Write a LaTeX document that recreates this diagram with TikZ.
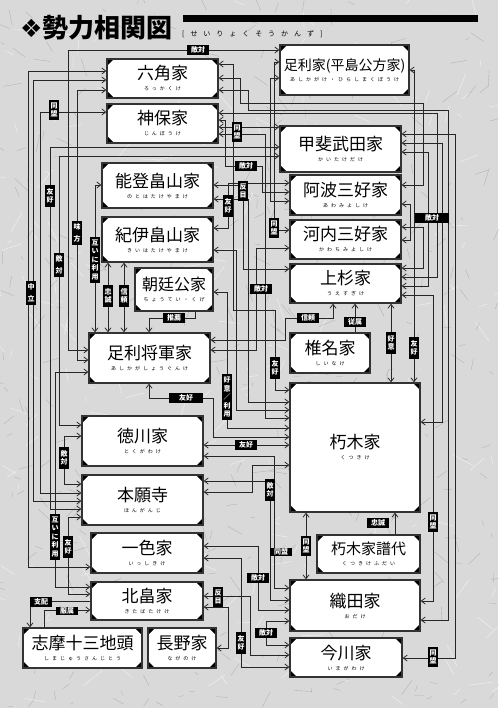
\documentclass[tikz,border=0pt]{standalone}
\usepackage{fontspec}
\newfontfamily\jp{Noto Sans CJK JP}
\newfontfamily\jpsp{Noto Sans CJK JP}[LetterSpace=60]
\newfontfamily\jpwide{Noto Sans CJK JP}[LetterSpace=85]
\newfontfamily\symf{DejaVu Sans}
\usetikzlibrary{arrows.meta}
\newcommand{\ttl}[2][17]{{\jp\fontsize{#1}{#1}\selectfont #2}}
\newcommand{\rd}[1]{{\jpsp\fontsize{5}{6}\selectfont #1}}
\tikzset{
  house/.style={draw=black!80, line width=1.3pt, fill=white, inner sep=0pt, align=center,
    font=\fontsize{10}{11}\selectfont,
    path picture={
      \fill[black] (path picture bounding box.north west) -- ++(7pt,0pt) -- ++(-7pt,-7pt) -- cycle;
      \fill[black] (path picture bounding box.north east) -- ++(-7pt,0pt) -- ++(7pt,-7pt) -- cycle;
      \fill[black] (path picture bounding box.south west) -- ++(7pt,0pt) -- ++(-7pt,7pt) -- cycle;
      \fill[black] (path picture bounding box.south east) -- ++(-7pt,0pt) -- ++(7pt,7pt) -- cycle;
    }},
  >={Straight Barb[length=4pt,width=6pt]},
  rel/.style={draw=black!85, line width=0.75pt, <->},
  one/.style={draw=black!85, line width=0.75pt, ->},
  vlab/.style={fill=black, text=white, inner xsep=1.6pt, inner ysep=3pt, align=center,
    font=\jp\bfseries\fontsize{7}{8.5}\selectfont},
  vlabl/.style={vlab, font=\jp\bfseries\fontsize{7}{12}\selectfont},
  hlab/.style={fill=black, text=white, inner xsep=4pt, inner ysep=1.2pt,
    font=\jp\bfseries\fontsize{7}{8}\selectfont},
  hlabw/.style={hlab, inner xsep=10pt},
}
\begin{document}
\begin{tikzpicture}[x=1pt,y=-1pt]
\useasboundingbox (0,0) rectangle (498,708);
% paper background
\fill[black!15] (0,0) rectangle (498,708);
\pgfmathsetseed{42}
\foreach \i in {1,...,420}{
  \pgfmathsetmacro{\rxa}{rnd*498}
  \pgfmathsetmacro{\rya}{rnd*708}
  \pgfmathsetmacro{\rang}{rnd*180}
  \pgfmathsetmacro{\rlen}{3+rnd*16}
  \draw[black!50, line width=0.35pt, opacity=0.45] (\rxa,\rya) -- ++(\rang:\rlen pt);
}
\foreach \i in {1,...,260}{
  \pgfmathsetmacro{\rxa}{rnd*498}
  \pgfmathsetmacro{\rya}{rnd*708}
  \pgfmathsetmacro{\rang}{rnd*180}
  \pgfmathsetmacro{\rlen}{4+rnd*20}
  \draw[white, line width=0.6pt, opacity=0.5] (\rxa,\rya) -- ++(\rang:\rlen pt);
}

% heading
\node[anchor=west, inner sep=0pt] (title) at (20,28)
  {{\symf\fontsize{25}{25}\selectfont ❖}{\jp\bfseries\fontsize{26}{26}\selectfont 勢力相関図}};
\fill[black] (183,15) rectangle (478,22);
\node[anchor=west, inner sep=0pt] (subtitle) at (182,34)
  {\jpwide\fontsize{7}{8}\selectfont [せいりょくそうかんず]};

% houses
\node[house, minimum width=111pt, minimum height=39pt] (rokkaku) at (162.5,78.5) {\ttl{六角家}\\\rd{ろっかくけ}};
\node[house, minimum width=111pt, minimum height=39pt] (jinbo) at (162.5,123.5) {\ttl{神保家}\\\rd{じんぼうけ}};
\node[house, minimum width=129pt, minimum height=50pt] (hirashima) at (344.5,70) {\ttl[14]{足利家(平島公方家)}\\\rd{あしかがけ・ひらしまくぼうけ}};
\node[house, minimum width=121pt, minimum height=46pt] (takeda) at (340.5,149) {\ttl{甲斐武田家}\\\rd{かいたけだけ}};
\node[house, minimum width=111pt, minimum height=45pt] (noto) at (157.5,185.5) {\ttl{能登畠山家}\\\rd{のとはたけやまけ}};
\node[house, minimum width=111pt, minimum height=45pt] (kii) at (157.5,239.5) {\ttl{紀伊畠山家}\\\rd{きいはたけやまけ}};
\node[house, minimum width=111pt, minimum height=40pt] (awa) at (345.5,195) {\ttl{阿波三好家}\\\rd{あわみよしけ}};
\node[house, minimum width=111pt, minimum height=39pt] (kawachi) at (345.5,239.5) {\ttl{河内三好家}\\\rd{かわちみよしけ}};
\node[house, minimum width=111pt, minimum height=39pt] (uesugi) at (345.5,283.5) {\ttl{上杉家}\\\rd{うえすぎけ}};
\node[house, minimum width=78pt, minimum height=43pt] (chotei) at (174,289.5) {\ttl[16]{朝廷公家}\\\rd{ちょうてい・くげ}};
\node[house, minimum width=121pt, minimum height=50pt] (shogun) at (149.5,358) {\ttl{足利将軍家}\\\rd{あしかがしょうぐんけ}};
\node[house, minimum width=80pt, minimum height=40pt] (shiina) at (330,353) {\ttl{椎名家}\\\rd{しいなけ}};
\node[house, minimum width=130pt, minimum height=129pt] (kutsuki) at (355,447.5) {\ttl{朽木家}\\\rd{くつきけ}};
\node[house, minimum width=121pt, minimum height=50pt] (tokugawa) at (142.5,441) {\ttl{徳川家}\\\rd{とくがわけ}};
\node[house, minimum width=121pt, minimum height=50pt] (honganji) at (142.5,500) {\ttl{本願寺}\\\rd{ほんがんじ}};
\node[house, minimum width=112pt, minimum height=40pt] (isshiki) at (147,553) {\ttl{一色家}\\\rd{いっしきけ}};
\node[house, minimum width=112pt, minimum height=38pt] (kitabatake) at (147,601) {\ttl{北畠家}\\\rd{きたばたけけ}};
\node[house, minimum width=119pt, minimum height=40pt] (shima) at (82.5,648) {\ttl{志摩十三地頭}\\\rd{しまじゅうさんじとう}};
\node[house, minimum width=68pt, minimum height=40pt] (nagano) at (182,648) {\ttl{長野家}\\\rd{ながのけ}};
\node[house, minimum width=103pt, minimum height=38pt] (fudai) at (368.5,554) {\ttl[15]{朽木家譜代}\\\rd{くつきけふだい}};
\node[house, minimum width=130pt, minimum height=51pt] (oda) at (355,605.5) {\ttl{織田家}\\\rd{おだけ}};
\node[house, minimum width=112pt, minimum height=39pt] (imagawa) at (346,657.5) {\ttl{今川家}\\\rd{いまがわけ}};

% left-hand bus
\draw[rel] (hirashima.west |- 0,50) -- (68,50) -- (68,350) -- (shogun.west |- 0,350);
\draw[rel] (rokkaku.west |- 0,71) -- (28,71) -- (28,567) -- (isshiki.west |- 0,567);
\draw[rel] (rokkaku.west |- 0,80) -- (33,80) -- (33,501) -- (honganji.west |- 0,501);
\draw[rel] (rokkaku.west |- 0,90) -- (77,90) -- (77,360) -- (shogun.west |- 0,360);
\draw[rel] (jinbo.west |- 0,112) -- (40,112) -- (40,493) -- (honganji.west |- 0,493);
\draw[rel] (takeda.west |- 0,147) -- (50,147) -- (50,509) -- (honganji.west |- 0,509);
\draw[rel] (takeda.west |- 0,156) -- (59,156) -- (59,425) -- (tokugawa.west |- 0,425);
\draw[rel] (noto.west |- 0,185) -- (95,185) -- (shogun.north -| 95,0);
\draw[rel] (kii.south -| 108,0) -- (shogun.north -| 108,0);
\draw[rel] (kii.south -| 124,0) -- (shogun.north -| 124,0);
\draw[one] (chotei.south -| 195,0) -- (195,318) -- (149,318) -- (shogun.north -| 149,0);
\draw[rel] (shogun.west |- 0,372) -- (55,372) -- (55,587) -- (kitabatake.west |- 0,587);
\draw[rel] (tokugawa.west |- 0,436) -- (64,436) -- (64,484) -- (honganji.west |- 0,484);
\draw[rel] (honganji.west |- 0,517) -- (68,517) -- (68,594) -- (kitabatake.west |- 0,594);
\draw[one] (kitabatake.west |- 0,601) -- (30,601) -- (shima.north -| 30,0);
\draw[one] (shima.north -| 44,0) -- (44,610) -- (kitabatake.west |- 0,610);

% central channel
\draw[rel] (jinbo.east |- 0,127) -- (takeda.west |- 0,127);
\draw[rel] (jinbo.east |- 0,120) -- (225,120) -- (225,166) -- (262,166) -- (262,192) -- (awa.west |- 0,192);
\draw[rel] (jinbo.east |- 0,134) -- (265,134) -- (265,418) -- (kutsuki.west |- 0,418);
\draw[rel] (rokkaku.east |- 0,64) -- (233,64) -- (233,310) -- (275,310) -- (275,390) -- (kutsuki.west |- 0,390);
\draw[rel] (rokkaku.east |- 0,78) -- (240,78) -- (240,103) -- (423,103) -- (423,185) -- (awa.east |- 0,185);
\draw[rel] (rokkaku.east |- 0,90) -- (248,90) -- (248,110) -- (448,110) -- (448,620) -- (oda.east |- 0,620);
\draw[rel] (jinbo.east |- 0,113) -- (437,113) -- (437,277) -- (uesugi.east |- 0,277);
\draw[rel] (hirashima.west |- 0,62) -- (274,62) -- (274,230) -- (kawachi.west |- 0,230);
\draw[rel] (hirashima.west |- 0,78) -- (270,78) -- (270,201) -- (awa.west |- 0,201);
\draw[rel] (noto.east |- 0,185) -- (243,185) -- (243,269) -- (uesugi.west |- 0,269);
\draw[rel] (kii.east |- 0,228) -- (228,228) -- (228,183) -- (awa.west |- 0,183);
\draw[rel] (noto.east |- 0,199) -- (248,199) -- (248,402) -- (kutsuki.west |- 0,402);
\draw[rel] (kii.east |- 0,250) -- (236,250) -- (236,410) -- (kutsuki.west |- 0,410);
\draw[rel] (shogun.east |- 0,350) -- (256,350) -- (256,248) -- (kawachi.west |- 0,248);
\draw[rel] (uesugi.south -| 333,0) -- (333,318) -- (285,318) -- (285,340) -- (shogun.east |- 0,340);
\draw[one] (shiina.north -| 355,0) -- (uesugi.south -| 355,0);
\draw[rel] (uesugi.south -| 391,0) -- (kutsuki.north -| 391,0);
\draw[rel] (hirashima.east |- 0,70) -- (414,70) -- (kutsuki.north -| 414,0);
\draw[rel] (chotei.east |- 0,292) -- (227,292) -- (227,428) -- (kutsuki.west |- 0,428);
\draw[rel] (shogun.south -| 149,0) -- (149,398) -- (213,398) -- (213,437) -- (kutsuki.west |- 0,437);
\draw[rel] (tokugawa.east |- 0,445) -- (kutsuki.west |- 0,445);
\draw[rel] (honganji.east |- 0,492) -- (252,492) -- (252,465) -- (kutsuki.west |- 0,465);
\draw[rel] (honganji.east |- 0,481) -- (270,481) -- (270,600) -- (oda.west |- 0,600);
\draw[rel] (tokugawa.east |- 0,456) -- (274,456) -- (274,588) -- (oda.west |- 0,588);
\draw[rel] (isshiki.east |- 0,546) -- (258,546) -- (258,610) -- (oda.west |- 0,610);
\draw[rel] (isshiki.east |- 0,558) -- (241,558) -- (241,667) -- (imagawa.west |- 0,667);
\draw[rel] (oda.west |- 0,621) -- (266,621) -- (266,645) -- (imagawa.west |- 0,645);
\draw[rel] (kitabatake.east |- 0,596) -- (250,596) -- (250,655) -- (imagawa.west |- 0,655);
\draw[rel] (kitabatake.east |- 0,607) -- (228,607) -- (228,648) -- (nagano.east |- 0,648);
\draw[rel] (kutsuki.south -| 306,0) -- (oda.north -| 306,0);
\draw[one] (fudai.north -| 395,0) -- (kutsuki.south -| 395,0);

% right-hand bus
\draw[rel] (takeda.east |- 0,134) -- (455,134) -- (455,658) -- (imagawa.east |- 0,658);
\draw[rel] (takeda.east |- 0,143) -- (442,143) -- (442,422) -- (kutsuki.east |- 0,422);
\draw[rel] (takeda.east |- 0,152) -- (428,152) -- (428,286) -- (uesugi.east |- 0,286);
\draw[rel] (awa.east |- 0,204) -- (410,204) -- (410,240) -- (kawachi.east |- 0,240);
\draw[rel] (kawachi.east |- 0,227) -- (423,227) -- (423,268) -- (uesugi.east |- 0,268);
\draw[rel] (uesugi.east |- 0,295) -- (433,295) -- (433,601) -- (oda.east |- 0,601);

% relation labels, vertical
\node[vlab] (v01) at (54,110) {同\\盟};
\node[vlab] (v02) at (50,196) {友\\好};
\node[vlabl] (v03) at (77,233) {味\\方};
\node[vlabl] (v04) at (59,265) {敵\\対};
\node[vlab] (v05) at (95,260) {互\\い\\に\\利\\用};
\node[vlabl] (v06) at (31,293) {中\\立};
\node[vlab] (v07) at (108,296) {忠\\誠};
\node[vlab] (v08) at (124,296) {信\\頼};
\node[vlab] (v09) at (237,132) {同\\盟};
\node[vlab] (v10) at (243,191) {反\\目};
\node[vlab] (v11) at (228,206) {友\\好};
\node[vlab] (v12) at (274,228) {同\\盟};
\node[vlab] (v13) at (391,343) {好\\意};
\node[vlab] (v14) at (414,348) {友\\好};
\node[vlab] (v15) at (275,368) {友\\好};
\node[vlab] (v16) at (227,397) {好\\意\\／\\利\\用};
\node[vlab] (v17) at (64,458) {敵\\対};
\node[vlab] (v18) at (270,490) {敵\\対};
\node[vlab] (v19) at (433,522) {同\\盟};
\node[vlab] (v20) at (306,546) {同\\盟};
\node[vlab] (v21) at (55,537) {互\\い\\に\\利\\用};
\node[vlab] (v22) at (68,547) {友\\好};
\node[vlab] (v23) at (218,597) {反\\目};
\node[vlab] (v24) at (241,643) {友\\好};
\node[vlab] (v25) at (433,657) {同\\盟};

% relation labels, horizontal
\node[hlab] (h01) at (198,50) {敵対};
\node[hlab] (h02) at (246,166) {敵対};
\node[hlab] (h03) at (261,289) {敵対};
\node[hlabw] (h04) at (432,218) {敵対};
\node[hlab] (h05) at (308,318) {信頼};
\node[hlab] (h06) at (355,322) {従属};
\node[hlab] (h07) at (174,318) {推薦};
\node[hlabw] (h08) at (186,398) {友好};
\node[hlab] (h09) at (246,445) {友好};
\node[hlab] (h10) at (378,523) {忠誠};
\node[hlab] (h11) at (281,552) {同盟};
\node[hlab] (h12) at (258,578) {敵対};
\node[hlab] (h13) at (266,633) {敵対};
\node[hlab] (h14) at (41,602) {支配};
\node[hlab] (h15) at (67,611) {服属};
\end{tikzpicture}
\end{document}
